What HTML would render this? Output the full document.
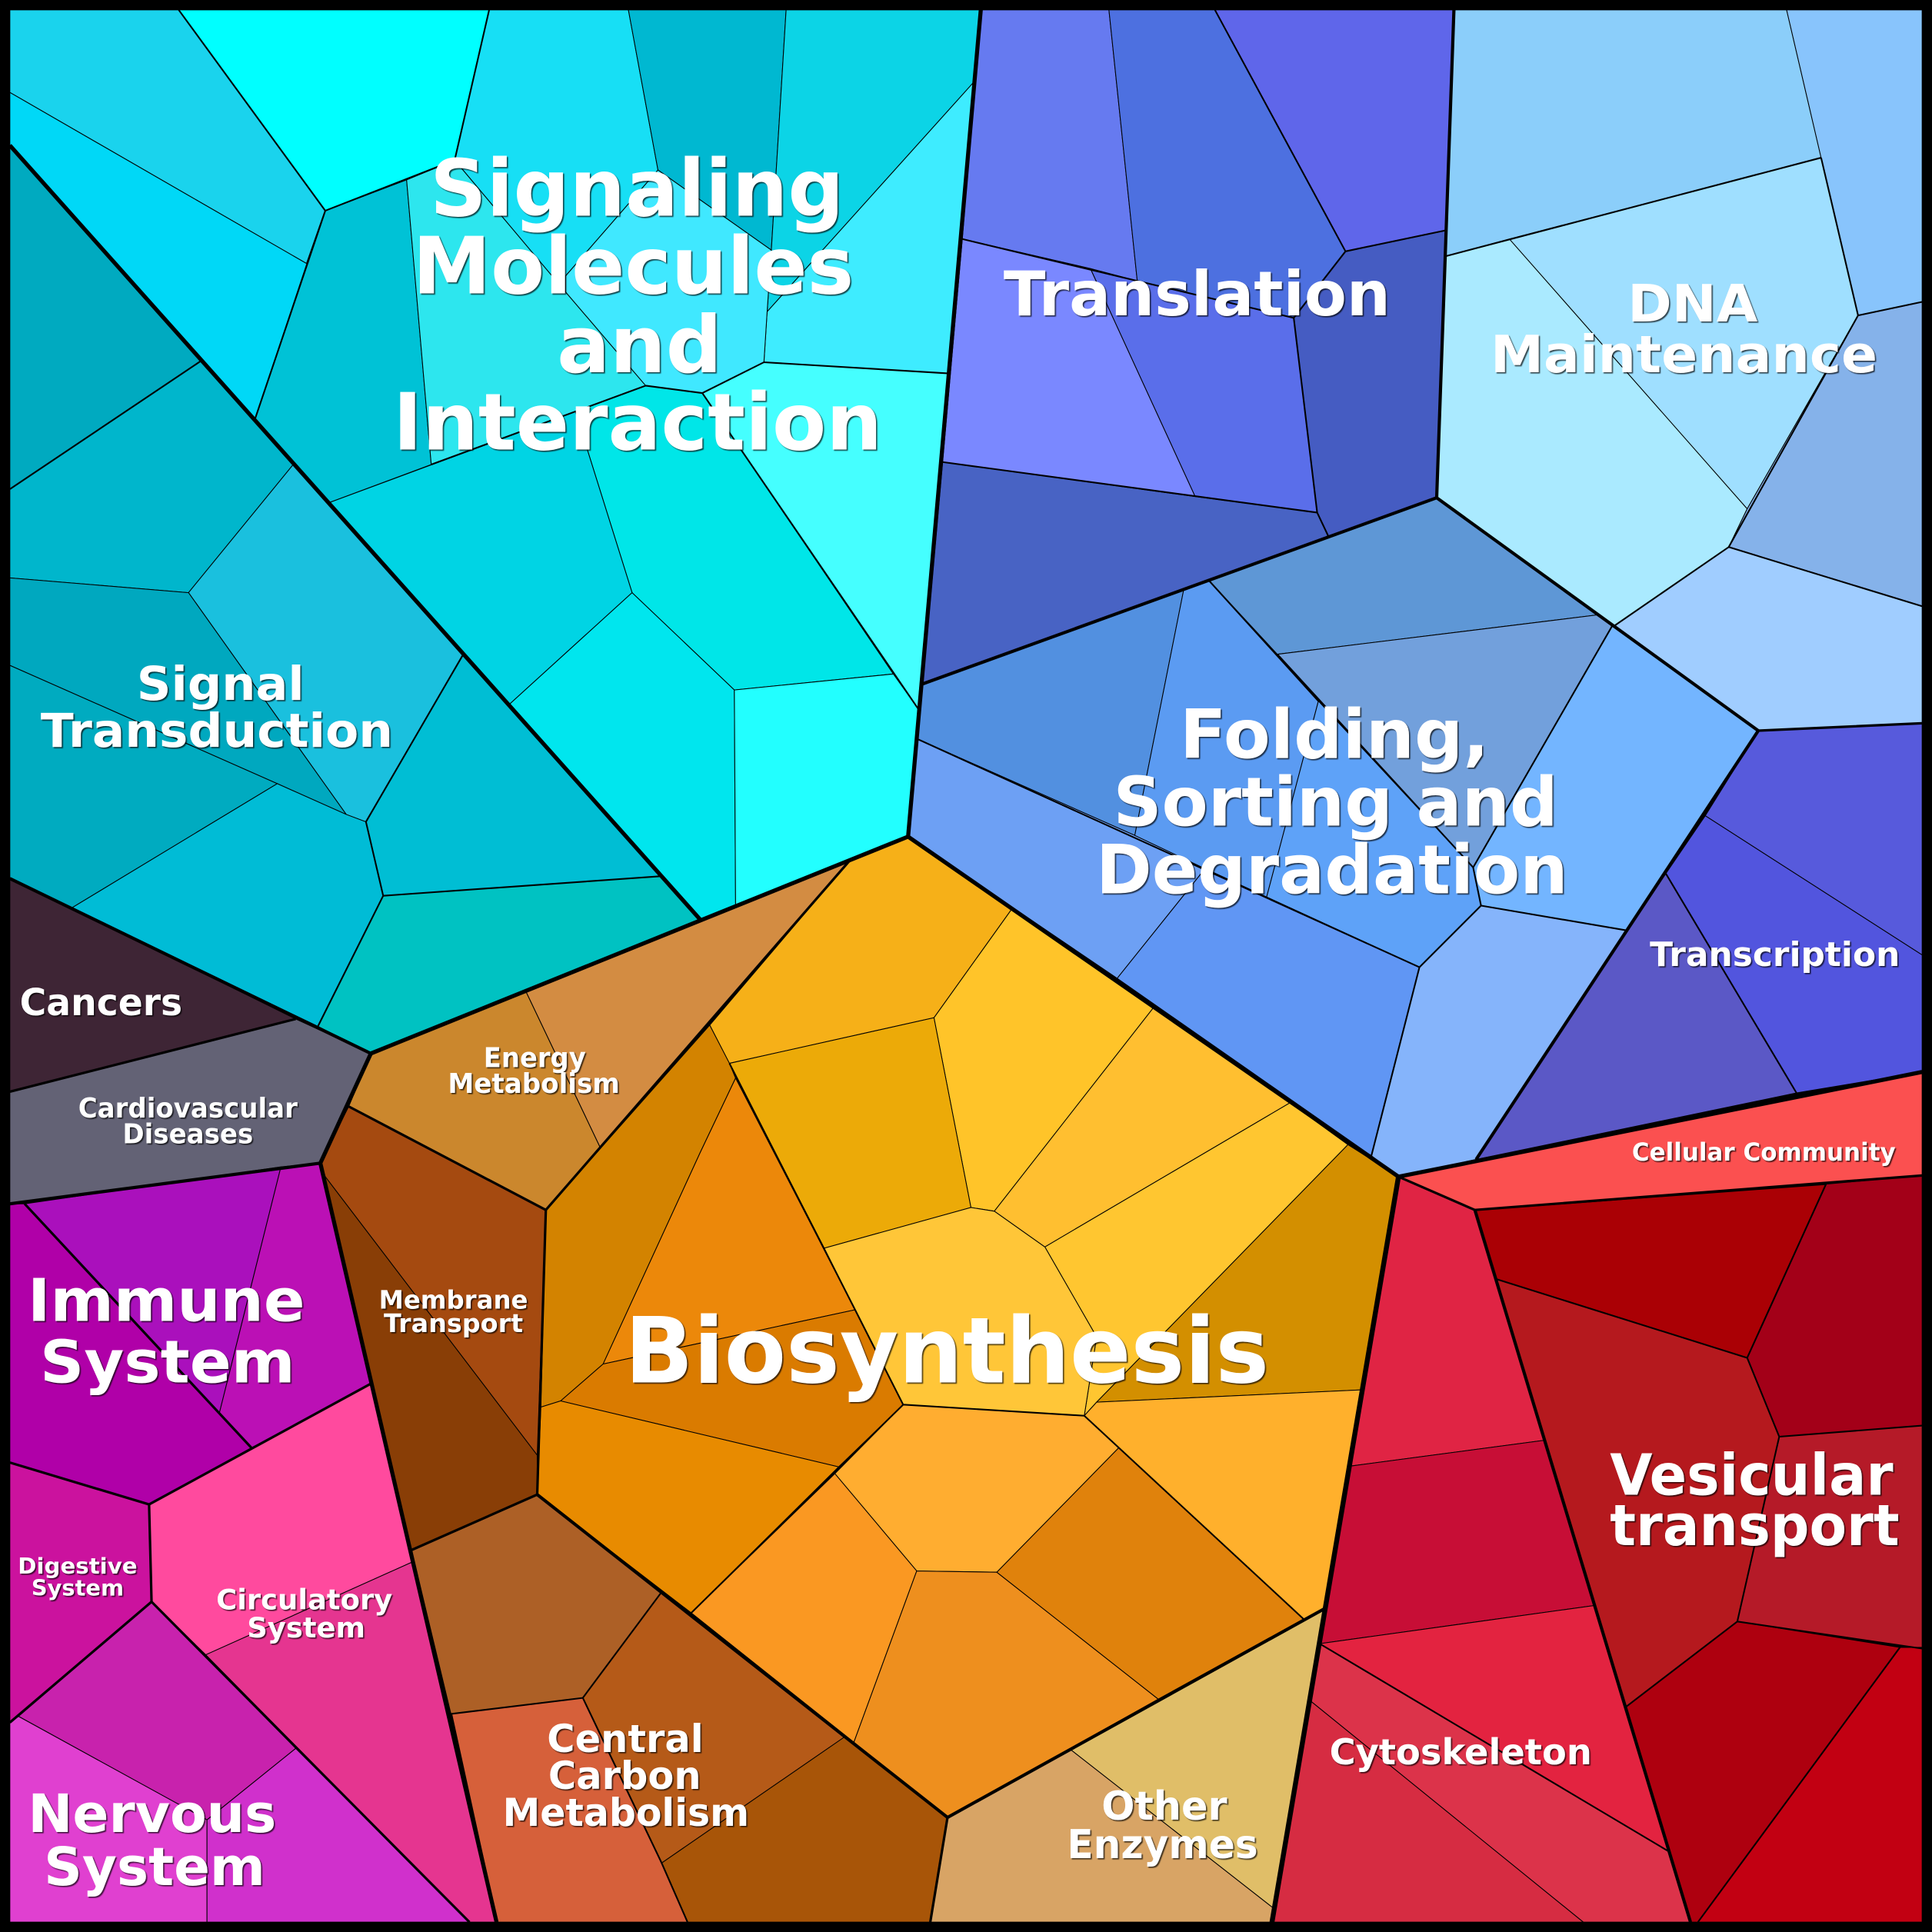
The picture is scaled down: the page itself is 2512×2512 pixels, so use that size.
<!DOCTYPE html>
<html><head><meta charset="utf-8"><style>
html,body{margin:0;padding:0;background:#000}
svg{display:block;width:2512px;height:2512px}
polygon{stroke:#000;stroke-width:.65;stroke-linejoin:round}
.m{fill:none;stroke:#000;stroke-width:1.3;stroke-linejoin:round}
.h{fill:none;stroke:#000;stroke-width:2;stroke-linejoin:round}
.k{fill:none;stroke:#000;stroke-width:2.6;stroke-linejoin:round}
.t{fill:none;stroke:#000;stroke-width:3.3;stroke-linejoin:round}
.x{fill:none;stroke:#000;stroke-width:4;stroke-linejoin:round}
text{font-family:"DejaVu Sans",sans-serif;font-weight:bold;fill:#fff;text-anchor:start}
#L{filter:drop-shadow(1.1px 1.1px .3px rgba(0,0,0,.7))}
</style></head><body>
<svg xmlns="http://www.w3.org/2000/svg" viewBox="0 0 1568 1568">
<rect width="1568" height="1568" fill="#000"/>
<g>
<polygon fill="#1ad3ed" points="8,8 145,8 264,171 249,214 8,75"/>
<polygon fill="#00d8f7" points="8,75 249,214 207,340 8,118"/>
<polygon fill="#00ffff" points="145,8 397,8 369,130 330,146 264,171"/>
<polygon fill="#00c2d6" points="264,171 330,146 350,377 267,408 207,340"/>
<polygon fill="#17dff5" points="397,8 510,8 534,138 459,224 459,237 369,130"/>
<polygon fill="#00b8d1" points="510,8 638,8 626,203 534,138"/>
<polygon fill="#0cd4e6" points="638,8 796,8 790,67 622.6,253 626,203"/>
<polygon fill="#3eecff" points="790,67 769,303 620,294 622.6,253"/>
<polygon fill="#40e8ff" points="534,138 626,203 622.6,253 620,294 570,319 524,313 459,237 459,224"/>
<polygon fill="#2de6ee" points="330,146 369,130 459,237 524,313 350,377"/>
<polygon fill="#45ffff" points="620,294 769,303 745,575 570,319"/>
<polygon fill="#00e6e8" points="524,313 570,319 725,547 596,560 513,481 467,334"/>
<polygon fill="#00d4e4" points="267,408 467,334 513,481 413,572"/>
<polygon fill="#00e6ee" points="413,572 513,481 596,560 597,735 568,746"/>
<polygon fill="#22ffff" points="596,560 725,547 745,575 737,679 597,735"/>

<polygon fill="#00aac0" points="8,118 163,293 8,397"/>
<polygon fill="#00b6cc" points="163,293 238,377 153,481 8,469 8,397"/>
<polygon fill="#1ac0de" points="238,377 376,531 297,667 281,661 153,481"/>
<polygon fill="#00a8bf" points="8,469 153,481 281,661 225,636 8,540"/>
<polygon fill="#00abc0" points="8,540 225,636 58,737 8,713"/>
<polygon fill="#00bcd6" points="225,636 281,661 297,667 311,727 258,833 58,737"/>
<polygon fill="#00bed4" points="376,531 538,711 311,727 297,667"/>
<polygon fill="#00c2c2" points="311,727 538,711 568,746 301,855 258,833"/>

<polygon fill="#3e2535" points="8,713 58,737 240,827 8,886"/>
<polygon fill="#636275" points="8,886 240,827 301,855 260,944 8,977"/>

<polygon fill="#b000a8" points="8,977 20,977 204,1175 121,1221 8,1187"/>
<polygon fill="#aa10bc" points="20,977 228,947 178,1147"/>
<polygon fill="#bb10b5" points="228,947 260,944 301,1123 204,1175 178,1147"/>
<polygon fill="#ff4a9e" points="121,1221 301,1123 334,1268 167,1343 123,1300"/>
<polygon fill="#e53590" points="167,1343 334,1268 403,1560 381,1560"/>
<polygon fill="#cb129e" points="8,1187 121,1221 123,1300 8,1398"/>
<polygon fill="#c822ad" points="123,1300 240,1419 168,1477 15,1393"/>
<polygon fill="#e040d0" points="8,1398 15,1393 168,1477 168,1560 8,1560"/>
<polygon fill="#d030cc" points="168,1477 240,1419 381,1560 168,1560"/>

<polygon fill="#cb872d" points="301,855 427,805 487,931 443,982 283,898"/>
<polygon fill="#d38c42" points="427,805 690,698 487,931"/>
<polygon fill="#a54a10" points="283,898 443,982 436,1181 264,955 260,944"/>
<polygon fill="#893e06" points="260,944 264,955 436,1181 436,1213 334,1258"/>
<polygon fill="#ad6026" points="334,1258 436,1213 537,1292 473,1378 366,1391"/>
<polygon fill="#b55a18" points="537,1292 685,1410 537,1512 473,1378"/>
<polygon fill="#a85508" points="685,1410 769,1475 755,1560 558,1560 537,1512"/>
<polygon fill="#d6603a" points="366,1391 473,1378 537,1512 558,1560 403,1560"/>
<polygon fill="#d8a465" points="769,1475 869,1420 1034,1549 1032,1560 755,1560"/>
<polygon fill="#e0be68" points="869,1420 1076,1305 1034,1549"/>

<polygon fill="#f6b018" points="690,698 737,679 821,738 758,826 592,863 576,832"/>
<polygon fill="#ffc429" points="821,738 936,818 807,983 788,980 758,826"/>
<polygon fill="#ffbf30" points="936,818 1047,895 848,1012 807,983"/>
<polygon fill="#ffc630" points="1047,895 1094,929 890,1138 880,1149 890,1085 848,1012"/>
<polygon fill="#ecaa08" points="592,863 758,826 788,980 669,1013"/>
<polygon fill="#ffc638" points="669,1013 788,980 807,983 848,1012 890,1085 880,1149 733,1140 694,1063"/>
<polygon fill="#d38f00" points="1094,929 1135,955 1105,1128 890,1138"/>
<polygon fill="#ffb02c" points="890,1138 1105,1128 1076,1305 1058,1314 880,1149"/>
<polygon fill="#d38300" points="576,832 592,863 597,875 568,936 489.5,1107 455,1137 439,1142 443,982"/>
<polygon fill="#ec880a" points="597,875 694,1063 489.5,1107 568,936"/>
<polygon fill="#da7b00" points="489.5,1107 694,1063 733,1140 680.6,1190.5 455,1137"/>
<polygon fill="#e88b00" points="439,1142 455,1137 680.6,1190.5 561,1309 436,1213"/>
<polygon fill="#ffad30" points="733,1140 880,1149 908,1175 809,1276 744,1275 677.6,1196"/>
<polygon fill="#fa9822" points="677.6,1196 744,1275 693,1414 561,1309"/>
<polygon fill="#ee8f1e" points="744,1275 809,1276 940,1379 769,1475 693,1414"/>
<polygon fill="#e0820c" points="908,1175 1058,1314 940,1379 809,1276"/>

<polygon fill="#fb5050" points="1135,955 1560,870 1560,954 1197,982"/>
<polygon fill="#e02444" points="1135,955 1197,982 1253,1169 1095,1190"/>
<polygon fill="#c70e36" points="1095,1190 1253,1169 1294,1303 1071,1334"/>
<polygon fill="#e32340" points="1071,1334 1294,1303 1355,1503"/>
<polygon fill="#dc334a" points="1071,1334 1355,1503 1372,1560 1285,1560 1063,1380"/>
<polygon fill="#d62c42" points="1063,1380 1285,1560 1032,1560"/>
<polygon fill="#aa0005" points="1197,982 1482,961 1418,1102 1214,1038"/>
<polygon fill="#a30018" points="1482,961 1560,954 1560,1157 1444,1166 1418,1102"/>
<polygon fill="#b5191e" points="1214,1038 1418,1102 1444,1166 1410,1316 1320,1385"/>
<polygon fill="#b51a28" points="1444,1166 1560,1157 1560,1338 1410,1316"/>
<polygon fill="#ae000f" points="1410,1316 1542,1337 1378,1560 1372,1560 1320,1385"/>
<polygon fill="#c20012" points="1542,1337 1560,1337 1560,1560 1378,1560"/>

<polygon fill="#5b58c6" points="1198,941 1352,709 1458,887"/>
<polygon fill="#5255de" points="1352,709 1384,662 1560,775 1560,870 1458,887"/>
<polygon fill="#575adc" points="1384,662 1427,593 1560,587 1560,775"/>

<polygon fill="#5e97d6" points="981,471 1166,404 1297,499 1036.7,531"/>
<polygon fill="#5290e0" points="749,555 961,477 921,678 745,600"/>
<polygon fill="#6da0f4" points="745,600 921,678 978,705 906.7,794 737,679"/>
<polygon fill="#5b9bf2" points="961,477 981,471 1070,569 1028,728 978,705 921,678"/>
<polygon fill="#72a0dc" points="1036.7,531 1297,499 1308.6,507.7 1195.6,704"/>
<polygon fill="#73b5ff" points="1308.6,507.7 1427,593 1319.6,755 1202,735 1195.6,704"/>
<polygon fill="#5ea2f8" points="1070,569 1195.6,704 1202,735 1152,785 1028,728"/>
<polygon fill="#6096f4" points="978,705 1028,728 1152,785 1113,938 906.7,794"/>
<polygon fill="#85b4fb" points="1152,785 1202,735 1319.6,755 1198,941 1135,955 1113,938"/>

<polygon fill="#667af0" points="796,8 900,8 923,228 885,218 781,194"/>
<polygon fill="#4d70e0" points="900,8 986,8 1092,204 1050,258 923,228"/>
<polygon fill="#5f66ea" points="986,8 1180,8 1173,187 1092,204"/>
<polygon fill="#7a88ff" points="781,194 885,218 970,403 765,375"/>
<polygon fill="#5a6eea" points="885,218 923,228 1050,258 1069,416 970,403"/>
<polygon fill="#455cc2" points="1092,204 1173,187 1166,404 1078,435 1069,416 1050,258"/>
<polygon fill="#4863c4" points="765,375 970,403 1069,416 1078,435 749,555"/>

<polygon fill="#8bcefa" points="1180,8 1450,8 1478,128 1173,208"/>
<polygon fill="#88c4fc" points="1450,8 1560,8 1560,245 1508,256 1478,128"/>
<polygon fill="#9fdfff" points="1225,194 1478,128 1508,256 1418,413"/>
<polygon fill="#aaeaff" points="1173,208 1225,194 1418,413 1403,444 1310,508 1166,404"/>
<polygon fill="#85b2ea" points="1508,256 1560,245 1560,492 1403,444 1418,413"/>
<polygon fill="#a0cdff" points="1403,444 1560,492 1560,587 1427,593 1310,508"/>
</g>

<g>
<path class="m" d="M264,171L249,214M264,171L207,340M145,8L264,171M397,8L369,130M264,171L369,130M524,313L350,377M524,313L570,319L620,294L769,303M570,319L745,575M163,293L8,397M733,1140L880,1149M733,1140L561,1309M880,1149L1058,1314M592,863L694,1063L733,1140M1173,187L1092,204L986,8M765,375L1069,416L1078,435M1050,258L1069,416M1092,204L1050,258M781,194L923,228L1050,258M1036.7,531L1195.6,704L1202,735L1152,785L745,600M1152,785L1113,938M1202,735L1319.6,755M1308.6,507.7L1195.6,704M981,471L1070,569M1478,128L1173,208M1478,128L1508,256L1560,245M1508,256L1403,444L1560,492M1403,444L1310,508M1197,982L1482,961M1214,1038L1418,1102L1482,961M1418,1102L1444,1166L1560,1157M1444,1166L1410,1316L1320,1385M1410,1316L1560,1338M1542,1337L1378,1560M1071,1334L1355,1503M1352,709L1458,887M376,531L297,667L311,727L538,711M311,727L258,833M366,1391L473,1378L537,1292M473,1378L537,1512L558,1560"/>
<path class="h" d="M8,886L240,827M121,1221L301,1123M8,1187L121,1221L123,1300L8,1398M123,1300L381,1560M20,977L204,1175M283,898L443,982L690,698M443,982L436,1213M334,1258L436,1213M366,1391L403,1560M755,1560L769,1475M1427,593L1560,587M1197,982L1560,954M1135,955L1197,982"/>
<path class="k" d="M749,555L1166,404L1180,8M1166,404L1427,593L1198,941M1197,982L1372,1560M8,713L301,855M8,977L260,944M1076,1305L769,1475L436,1213"/>
<path class="t" d="M796,8L737,679L301,855L260,944L403,1560M8,118L568,746M737,679L1135,955L1560,870"/>
<path class="x" d="M1135,955L1032,1562"/>
</g>

<path d="M4,4H1564V1564H4Z" fill="none" stroke="#000" stroke-width="8"/>

<g id="L">
<text x="349" y="175" font-size="64" textLength="336" lengthAdjust="spacingAndGlyphs">Signaling</text>
<text x="335" y="238" font-size="64" textLength="358" lengthAdjust="spacingAndGlyphs">Molecules</text>
<text x="452" y="302" font-size="64" textLength="134" lengthAdjust="spacingAndGlyphs">and</text>
<text x="319" y="365" font-size="64" textLength="397" lengthAdjust="spacingAndGlyphs">Interaction</text>
<text x="814.5" y="256" font-size="50" textLength="314" lengthAdjust="spacingAndGlyphs">Translation</text>
<text x="1321" y="261" font-size="42" textLength="105.5" lengthAdjust="spacingAndGlyphs">DNA</text>
<text x="1209.7" y="302" font-size="42" textLength="314" lengthAdjust="spacingAndGlyphs">Maintenance</text>
<text x="957.5" y="615" font-size="55" textLength="251" lengthAdjust="spacingAndGlyphs">Folding,</text>
<text x="903.5" y="670" font-size="55" textLength="361" lengthAdjust="spacingAndGlyphs">Sorting and</text>
<text x="889.5" y="725" font-size="55" textLength="383" lengthAdjust="spacingAndGlyphs">Degradation</text>
<text x="111" y="568" font-size="38" textLength="136" lengthAdjust="spacingAndGlyphs">Signal</text>
<text x="33" y="606" font-size="38" textLength="286" lengthAdjust="spacingAndGlyphs">Transduction</text>
<text x="1339" y="784" font-size="27" textLength="203" lengthAdjust="spacingAndGlyphs">Transcription</text>
<text x="1324.5" y="942" font-size="20" textLength="214" lengthAdjust="spacingAndGlyphs">Cellular Community</text>
<text x="16" y="824" font-size="30" textLength="132" lengthAdjust="spacingAndGlyphs">Cancers</text>
<text x="63.5" y="907" font-size="22" textLength="178" lengthAdjust="spacingAndGlyphs">Cardiovascular</text>
<text x="99.5" y="928" font-size="22" textLength="106" lengthAdjust="spacingAndGlyphs">Diseases</text>
<text x="22.5" y="1072" font-size="48" textLength="225" lengthAdjust="spacingAndGlyphs">Immune</text>
<text x="32.5" y="1122" font-size="48" textLength="207" lengthAdjust="spacingAndGlyphs">System</text>
<text x="392.5" y="866" font-size="22" textLength="83" lengthAdjust="spacingAndGlyphs">Energy</text>
<text x="363.5" y="887" font-size="22" textLength="139.5" lengthAdjust="spacingAndGlyphs">Metabolism</text>
<text x="307.5" y="1062" font-size="20.5" textLength="121" lengthAdjust="spacingAndGlyphs">Membrane</text>
<text x="311.5" y="1081" font-size="20.5" textLength="113" lengthAdjust="spacingAndGlyphs">Transport</text>
<text x="14.5" y="1277" font-size="17.5" textLength="97" lengthAdjust="spacingAndGlyphs">Digestive</text>
<text x="25.5" y="1295" font-size="17.5" textLength="75" lengthAdjust="spacingAndGlyphs">System</text>
<text x="175.5" y="1306" font-size="23" textLength="143" lengthAdjust="spacingAndGlyphs">Circulatory</text>
<text x="200.5" y="1329" font-size="23" textLength="96" lengthAdjust="spacingAndGlyphs">System</text>
<text x="22.7" y="1487" font-size="43" textLength="201.6" lengthAdjust="spacingAndGlyphs">Nervous</text>
<text x="35.7" y="1530" font-size="43" textLength="179.6" lengthAdjust="spacingAndGlyphs">System</text>
<text x="444" y="1422" font-size="31" textLength="127" lengthAdjust="spacingAndGlyphs">Central</text>
<text x="445" y="1452" font-size="31" textLength="124" lengthAdjust="spacingAndGlyphs">Carbon</text>
<text x="408" y="1482" font-size="31" textLength="200" lengthAdjust="spacingAndGlyphs">Metabolism</text>
<text x="894" y="1477" font-size="32" textLength="102" lengthAdjust="spacingAndGlyphs">Other</text>
<text x="866" y="1508" font-size="32" textLength="155" lengthAdjust="spacingAndGlyphs">Enzymes</text>
<text x="1079" y="1432" font-size="29" textLength="213" lengthAdjust="spacingAndGlyphs">Cytoskeleton</text>
<text x="1306.6" y="1213" font-size="46" textLength="230" lengthAdjust="spacingAndGlyphs">Vesicular</text>
<text x="1306.6" y="1254" font-size="46" textLength="235" lengthAdjust="spacingAndGlyphs">transport</text>
<text x="507" y="1122" font-size="74" textLength="523" lengthAdjust="spacingAndGlyphs">Biosynthesis</text>
</g>
</svg>
</body></html>
